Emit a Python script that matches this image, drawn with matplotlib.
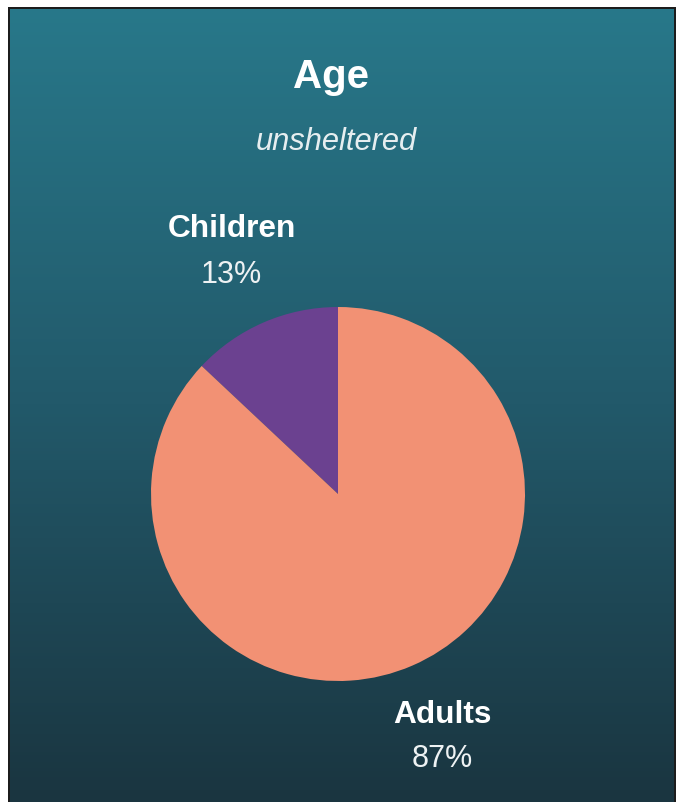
import numpy as np
import matplotlib.pyplot as plt
from matplotlib.colors import LinearSegmentedColormap
from matplotlib.patches import Rectangle

# Data
categories = ["Children", "Adults"]
shares = [13, 87]
slice_colors = ["#6b4190", "#f29174"]
title = "Age"
subtitle = "unsheltered"

W, H = 681, 802
fig = plt.figure(figsize=(W / 100, H / 100), dpi=100)
fig.patch.set_facecolor("white")


def fx(x):
    return x / W


def fy(y):
    return 1 - y / H


# Background panel with vertical gradient
panel_l, panel_r, panel_t, panel_b = 8, 676, 7, 802
bg = fig.add_axes([fx(panel_l), fy(panel_b), fx(panel_r - panel_l), (panel_b - panel_t) / H])
bg.set_axis_off()
grad_cmap = LinearSegmentedColormap.from_list(
    "panel", ["#28788a", "#22596a", "#1a3540"])
bg.imshow(np.linspace(0, 1, 256).reshape(-1, 1), aspect="auto", cmap=grad_cmap,
          extent=[0, 1, 0, 1], origin="upper")
bg.set_xlim(0, 1)
bg.set_ylim(0, 1)

# Dark frame on top, left and right
frame = "#1c1c1c"
fig.add_artist(Rectangle((fx(panel_l), fy(panel_t + 2)), fx(panel_r - panel_l), 2 / H,
                         transform=fig.transFigure, color=frame, lw=0))
fig.add_artist(Rectangle((fx(panel_l), 0), 2 / W, fy(panel_t), transform=fig.transFigure,
                         color=frame, lw=0))
fig.add_artist(Rectangle((fx(panel_r - 2), 0), 2 / W, fy(panel_t), transform=fig.transFigure,
                         color=frame, lw=0))

# Pie
cx, cy, r = 338, 494, 187
ax = fig.add_axes([fx(cx - r), fy(cy + r), 2 * r / W, 2 * r / H])
ax.pie(shares, colors=slice_colors, startangle=90, counterclock=True,
       radius=1, wedgeprops=dict(linewidth=0))
ax.set_xlim(-1, 1)
ax.set_ylim(-1, 1)
ax.set_aspect("equal")
ax.set_axis_off()

# Titles
fig.text(fx(330.5), fy(88.3), title, ha="center", va="baseline", color="white",
         fontsize=29, fontweight="bold", family="Liberation Sans")
fig.text(fx(336), fy(150), subtitle, ha="center", va="baseline", color="#e6eef0",
         fontsize=22.2, fontstyle="italic", family="Liberation Sans")

# Slice labels
label_pos = {"Children": (231.5, 236.7, 283.3), "Adults": (442.5, 723.3, 767.3)}
for name, val in zip(categories, shares):
    x, yb1, yb2 = label_pos[name]
    fig.text(fx(x), fy(yb1), name, ha="center", va="baseline", color="white",
             fontsize=22.8, fontweight="bold", family="Liberation Sans")
    fig.text(fx(x), fy(yb2), f"{val}%", ha="center", va="baseline", color="#eef2f3",
             fontsize=22, family="Liberation Sans")

fig.savefig("out.png", dpi=100, facecolor=fig.get_facecolor())
